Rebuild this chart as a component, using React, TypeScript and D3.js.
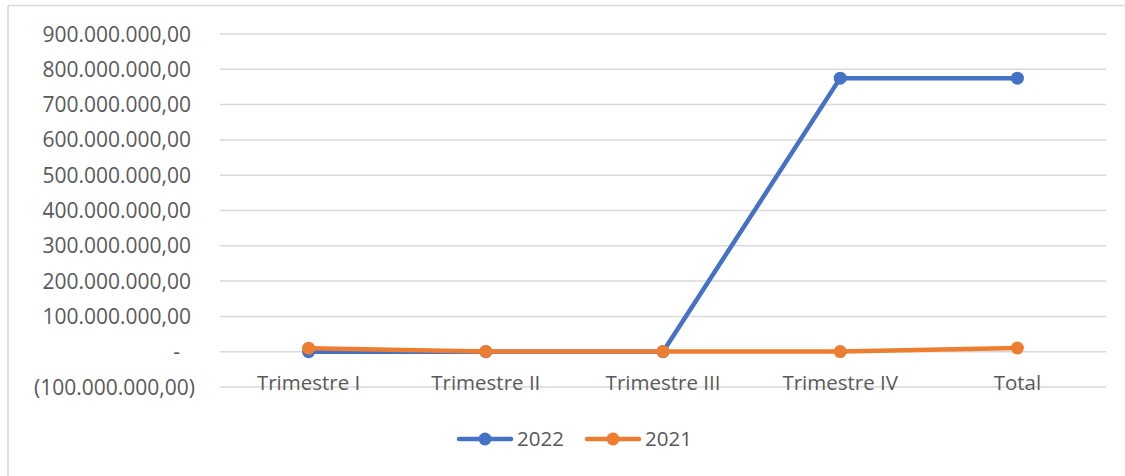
import React from "react";
import * as d3 from "d3";

const categories = ["Trimestre I", "Trimestre II", "Trimestre III", "Trimestre IV", "Total"];
const series2022 = [0, 0, 0, 775000000, 775000000];
const series2021 = [10000000, 800000, 800000, 300000, 10500000];
const yTicks = [-100000000, 0, 100000000, 200000000, 300000000, 400000000, 500000000, 600000000, 700000000, 800000000, 900000000];

const seriesList = [
  { name: "2022", values: series2022, color: "#4472C4" },
  { name: "2021", values: series2021, color: "#ED7D31" },
];

const W = 1125;
const H = 476;
const left = 220;
const right = 1106;
const top = 34;
const bottom = 387;
const font = "'Open Sans', sans-serif";
const textColor = "#595959";

function fmt(v: number): string {
  if (v === 0) return "-";
  const s = d3.format(",.2f")(Math.abs(v)).replace(/,/g, "#").replace(/\./g, ",").replace(/#/g, ".");
  return v < 0 ? `(${s})` : s;
}

export default function App() {
  const x = d3.scaleBand<string>().domain(categories).range([left, right]);
  const y = d3.scaleLinear().domain([-100000000, 900000000]).range([bottom, top]);
  const cx = (c: string) => (x(c) as number) + x.bandwidth() / 2;
  const line = d3
    .line<number>()
    .x((_, i) => cx(categories[i]))
    .y((d) => y(d));

  const legendX = [457, 585];

  return (
    <svg
      width={W}
      height={H}
      style={{ position: "absolute", left: 0, top: 0, background: "#fff" }}
      fontFamily={font}
    >
      <rect x={0} y={0} width={W} height={H} fill="#fff" />
      <line x1={8} x2={W} y1={5.5} y2={5.5} stroke="#d9d9d9" strokeWidth={1.5} />
      <line x1={8} x2={8} y1={5.5} y2={H} stroke="#d9d9d9" strokeWidth={1.5} />
      {yTicks.map((t) => (
        <g key={t}>
          <line x1={left} x2={right} y1={y(t)} y2={y(t)} stroke="#d9d9d9" strokeWidth={1.5} />
          <text
            x={t < 0 ? 195 : t === 0 ? 180 : 191}
            y={y(t)}
            dy="0.36em"
            textAnchor="end"
            fontSize={21}
            fill={textColor}
          >
            {fmt(t)}
          </text>
        </g>
      ))}
      {categories.map((c) => (
        <text key={c} x={cx(c)} y={390} textAnchor="middle" fontSize={20.5} fill={textColor}>
          {c}
        </text>
      ))}
      {seriesList.map((s) => (
        <g key={s.name}>
          <path
            d={line(s.values) as string}
            fill="none"
            stroke={s.color}
            strokeWidth={4.5}
            strokeLinejoin="round"
            strokeLinecap="round"
          />
          {s.values.map((v, i) => (
            <circle key={i} cx={cx(categories[i])} cy={y(v)} r={6.5} fill={s.color} />
          ))}
        </g>
      ))}
      {seriesList.map((s, i) => (
        <g key={s.name} transform={`translate(${legendX[i]},439)`}>
          <line x1={2} x2={54} y1={0} y2={0} stroke={s.color} strokeWidth={4.5} strokeLinecap="round" />
          <circle cx={28} cy={0} r={6.5} fill={s.color} />
          <text x={60} y={0} dy="0.36em" fontSize={20.5} fill={textColor}>
            {s.name}
          </text>
        </g>
      ))}
    </svg>
  );
}
